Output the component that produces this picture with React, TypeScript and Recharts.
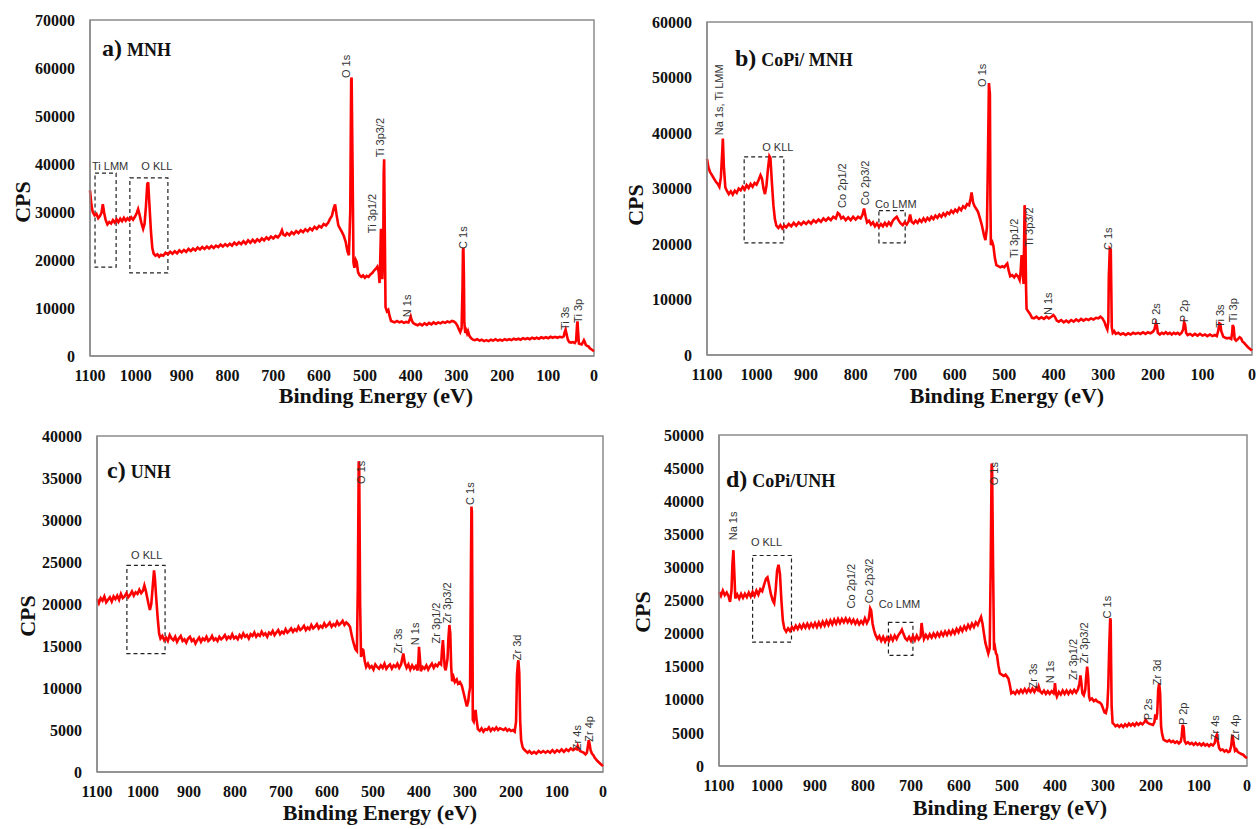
import { LineChart, Line, XAxis, YAxis, ReferenceArea, ReferenceDot } from "recharts";

type Pt = [number, number];
type Tag = { text: string; e: number; v: number };
type Box = { e1: number; e2: number; v1: number; v2: number };
type Rect = { l: number; t: number; r: number; b: number };

// binding energy ticks (eV), shared by all four panels
const X_TICKS = [0, 100, 200, 300, 400, 500, 600, 700, 800, 900, 1000, 1100];

const MNH_Y_TICKS = [0, 10000, 20000, 30000, 40000, 50000, 60000, 70000];
const COPI_MNH_Y_TICKS = [0, 10000, 20000, 30000, 40000, 50000, 60000];
const UNH_Y_TICKS = [0, 5000, 10000, 15000, 20000, 25000, 30000, 35000, 40000];
const COPI_UNH_Y_TICKS = [0, 5000, 10000, 15000, 20000, 25000, 30000, 35000, 40000, 45000, 50000];

// survey spectra: [binding energy, CPS]
const MNH: Pt[] = [
  [1100, 34500], [1097, 31500], [1094, 30000], [1090, 29300], [1086, 29600], [1082, 28700], [1078, 29200], [1075, 29800],
  [1072, 31600], [1069, 29800], [1066, 28400], [1062, 27400], [1058, 27900], [1054, 27600], [1050, 28300], [1046, 27800],
  [1042, 28500], [1038, 27900], [1034, 28600], [1030, 28100], [1026, 28800], [1022, 28200], [1018, 28700], [1014, 28300],
  [1010, 28900], [1006, 28400], [1002, 29000], [998, 29800], [995, 30600], [992, 29500], [988, 27800], [984, 26500],
  [981, 27500], [978, 31000], [975, 35800], [973, 36200], [970, 31000], [967, 26000], [964, 22500], [961, 21300],
  [957, 20900], [953, 21200], [949, 20700], [945, 21100], [940, 20900], [935, 21500], [930, 21200], [925, 21700],
  [920, 21300], [915, 21800], [910, 21400], [905, 22000], [900, 21600], [895, 22100], [890, 21700], [885, 22300],
  [880, 21900], [875, 22400], [870, 22000], [865, 22600], [860, 22200], [855, 22700], [850, 22300], [845, 22800],
  [840, 22400], [835, 22900], [830, 22500], [825, 23000], [820, 22700], [815, 23200], [810, 22800], [805, 23300],
  [800, 22900], [795, 23400], [790, 23000], [785, 23600], [780, 23200], [775, 23700], [770, 23300], [765, 23900],
  [760, 23400], [755, 24100], [750, 23600], [745, 24200], [740, 23700], [735, 24300], [730, 23900], [725, 24500],
  [720, 24100], [715, 24700], [710, 24300], [705, 24900], [700, 24500], [695, 25000], [690, 24700], [685, 25300],
  [681, 26200], [678, 25300], [674, 25100], [670, 25600], [665, 25200], [660, 25800], [655, 25400], [650, 26000],
  [645, 25600], [640, 26200], [635, 25800], [630, 26400], [625, 26000], [620, 26600], [615, 26200], [610, 26900],
  [605, 26500], [600, 27100], [595, 26800], [590, 27500], [585, 27200], [580, 27800], [576, 28600], [572, 29200],
  [568, 30800], [565, 31600], [562, 29500], [558, 27200], [554, 26500], [550, 25800], [546, 25000], [542, 23800],
  [538, 21800], [535, 21000], [532, 30000], [530, 57500], [529, 58000], [527, 40000], [525, 19500], [523, 18400],
  [520, 20000], [518, 19600], [515, 17500], [512, 16900], [508, 16500], [504, 16800], [500, 16300], [496, 16700],
  [492, 16500], [488, 17000], [484, 17300], [480, 17800], [476, 18200], [473, 18600], [470, 17500], [468, 15200],
  [466, 22000], [465, 26500], [464, 22000], [462, 16000], [460, 22000], [459, 38000], [458, 41000], [457, 30000],
  [455, 10200], [452, 9300], [449, 9600], [446, 8300], [443, 7300], [440, 7200], [435, 7000], [430, 7300],
  [425, 7000], [420, 7200], [415, 6900], [410, 7100], [405, 7000], [402, 7600], [400, 8200], [398, 7500],
  [395, 6900], [390, 6600], [385, 6400], [380, 6700], [375, 6400], [370, 6800], [365, 6500], [360, 6900],
  [355, 6600], [350, 7000], [345, 6700], [340, 7000], [335, 6800], [330, 7100], [325, 6900], [320, 7200],
  [315, 7000], [310, 7300], [306, 7200], [302, 6900], [298, 6300], [295, 5600], [292, 5000], [289, 5800],
  [287, 14000], [286, 22000], [285, 22500], [284, 17000], [283, 7000], [281, 4800], [279, 5300], [277, 4700],
  [275, 5200], [272, 4200], [268, 3700], [264, 3400], [260, 3300], [255, 3500], [250, 3200], [245, 3400],
  [240, 3100], [235, 3300], [230, 3100], [225, 3400], [220, 3200], [215, 3500], [210, 3200], [205, 3400],
  [200, 3200], [195, 3500], [190, 3300], [185, 3500], [180, 3300], [175, 3600], [170, 3400], [165, 3600],
  [160, 3400], [155, 3700], [150, 3500], [145, 3700], [140, 3500], [135, 3800], [130, 3600], [125, 3800],
  [120, 3600], [115, 3900], [110, 3700], [105, 3900], [100, 3700], [95, 4000], [90, 3800], [85, 4000],
  [80, 3800], [75, 4000], [70, 3900], [66, 4100], [64, 5000], [62, 5500], [60, 4600], [57, 3400],
  [54, 2900], [50, 2800], [46, 2900], [42, 2700], [39, 3200], [37, 6500], [36, 7200], [35, 5500],
  [33, 2600], [30, 2500], [27, 2400], [24, 2900], [22, 3300], [20, 2900], [18, 2300], [15, 2100],
  [12, 2000], [9, 1600], [6, 1400], [3, 1200], [0, 1000],
];

const COPI_MNH: Pt[] = [
  [1100, 35300], [1097, 33800], [1094, 33000], [1090, 32400], [1086, 31800], [1082, 31200], [1078, 30800], [1075, 30300],
  [1072, 32000], [1069, 37000], [1068, 39000], [1066, 34000], [1063, 30200], [1060, 29600], [1056, 29000], [1052, 29500],
  [1048, 28900], [1044, 29600], [1040, 29200], [1036, 30000], [1032, 29700], [1028, 30300], [1024, 29800], [1020, 30600],
  [1016, 30100], [1012, 30800], [1008, 30300], [1004, 31000], [1000, 30700], [996, 31500], [992, 32400], [989, 31800],
  [986, 30000], [983, 29000], [980, 30500], [977, 33500], [974, 35800], [972, 35500], [969, 31000], [966, 27000],
  [963, 24500], [960, 23300], [956, 22900], [952, 23400], [948, 22800], [944, 23300], [940, 23000], [935, 23600],
  [930, 23200], [925, 23800], [920, 23300], [915, 23900], [910, 23500], [905, 24000], [900, 23600], [895, 24100],
  [890, 23700], [885, 24300], [880, 23900], [875, 24400], [870, 24000], [865, 24600], [860, 24200], [855, 24700],
  [850, 24300], [845, 24900], [840, 24600], [836, 25600], [833, 25400], [829, 24600], [825, 24900], [820, 24300],
  [815, 24800], [810, 24300], [805, 24900], [800, 24400], [795, 24900], [790, 24600], [786, 25300], [783, 26400],
  [780, 25000], [777, 23900], [773, 24200], [769, 23500], [765, 23900], [761, 23200], [757, 23700], [753, 23100],
  [749, 23600], [745, 23200], [741, 23800], [737, 23300], [733, 23900], [729, 23400], [725, 24200], [721, 24600],
  [717, 24900], [713, 24200], [709, 23700], [705, 23400], [701, 23900], [697, 23500], [693, 24100], [690, 25300],
  [687, 24000], [683, 23700], [679, 24200], [675, 23800], [671, 24400], [667, 24000], [663, 24600], [659, 24100],
  [655, 24700], [651, 24300], [647, 24900], [643, 24500], [639, 25100], [635, 24700], [631, 25300], [627, 24900],
  [623, 25500], [619, 25100], [615, 25700], [611, 25400], [607, 26000], [603, 25600], [599, 26200], [595, 25800],
  [591, 26500], [587, 26100], [583, 26800], [579, 26500], [575, 27200], [571, 27000], [568, 28200], [566, 29300],
  [563, 27500], [560, 26800], [557, 26400], [553, 25800], [549, 24600], [545, 23300], [541, 21600], [538, 20700],
  [535, 23000], [533, 35000], [531, 49000], [529, 47000], [528, 28000], [527, 19800], [524, 20300], [522, 19700],
  [519, 17500], [516, 16200], [512, 16000], [508, 15800], [504, 16000], [500, 15800], [496, 16300], [494, 16500],
  [491, 15200], [488, 14200], [484, 14400], [480, 14000], [476, 14500], [472, 14100], [469, 13500], [467, 15000],
  [465, 18000], [463, 15000], [461, 12800], [460, 20000], [459, 27000], [458, 26000], [456, 12000], [455, 8300],
  [452, 7900], [448, 7400], [444, 6700], [440, 6600], [435, 6900], [430, 6500], [425, 6800], [420, 6500],
  [415, 6900], [410, 6600], [405, 6900], [401, 7200], [398, 6900], [394, 6200], [390, 6000], [385, 6300],
  [380, 5900], [375, 6200], [370, 5900], [365, 6300], [360, 6000], [355, 6400], [350, 6100], [345, 6500],
  [340, 6200], [335, 6500], [330, 6300], [325, 6600], [320, 6400], [315, 6700], [310, 6600], [306, 6900],
  [302, 6600], [298, 6000], [295, 5200], [292, 4600], [290, 6000], [289, 14000], [287, 19200], [285, 19000],
  [284, 12000], [283, 5000], [281, 4000], [278, 4300], [275, 3800], [270, 4000], [265, 3700], [260, 3900],
  [255, 3600], [250, 3900], [245, 3700], [240, 4000], [235, 3800], [230, 4000], [225, 3800], [220, 4100],
  [215, 3800], [210, 4100], [205, 3900], [200, 4200], [197, 4600], [194, 5700], [192, 5300], [190, 4000],
  [186, 3700], [182, 4000], [178, 3800], [174, 4100], [170, 3800], [166, 4000], [162, 3700], [158, 4000],
  [154, 3800], [150, 4000], [146, 3700], [142, 4000], [139, 4600], [137, 5900], [135, 5500], [133, 4000],
  [130, 3600], [125, 3800], [120, 3500], [115, 3800], [110, 3500], [105, 3800], [100, 3500], [95, 3700],
  [90, 3400], [85, 3700], [80, 3400], [75, 3600], [71, 3400], [68, 4400], [66, 5700], [64, 5600],
  [62, 4300], [58, 3300], [54, 3100], [50, 3000], [46, 3100], [42, 2900], [40, 4000], [39, 5400],
  [37, 5000], [35, 2900], [32, 2600], [28, 2900], [25, 3200], [22, 3000], [19, 2400], [16, 2200],
  [12, 1800], [8, 1400], [4, 1100], [0, 800],
];

const UNH: Pt[] = [
  [1100, 20600], [1096, 20100], [1092, 20700], [1088, 20400], [1084, 20900], [1080, 20200], [1076, 20500], [1072, 20800],
  [1068, 20300], [1064, 20900], [1060, 20600], [1056, 21000], [1052, 20500], [1048, 21200], [1044, 20700], [1040, 20900],
  [1036, 21300], [1032, 20800], [1028, 21100], [1024, 21500], [1020, 21000], [1016, 21400], [1012, 21200], [1008, 21700],
  [1004, 21300], [1000, 21600], [997, 22200], [994, 21600], [991, 20800], [988, 20000], [985, 19300], [982, 20000],
  [979, 22000], [976, 24000], [974, 23000], [971, 20500], [968, 18300], [965, 16500], [962, 15900], [958, 16200],
  [954, 15700], [950, 16000], [946, 15600], [942, 16300], [938, 15900], [934, 15700], [930, 16100], [926, 15500],
  [922, 15900], [918, 16200], [914, 15600], [910, 15800], [906, 15400], [902, 15900], [898, 16100], [894, 15600],
  [890, 15800], [886, 15300], [882, 15700], [878, 16000], [874, 15500], [870, 15900], [866, 15700], [862, 16100],
  [858, 15600], [854, 15800], [850, 16200], [846, 15700], [842, 15900], [838, 15600], [834, 16100], [830, 15800],
  [826, 16000], [822, 16300], [818, 15800], [814, 16100], [810, 15900], [806, 16400], [802, 15900], [798, 16100],
  [794, 15800], [790, 16300], [786, 16000], [782, 16500], [778, 16100], [774, 16300], [770, 15900], [766, 16400],
  [762, 16200], [758, 16600], [754, 16100], [750, 16400], [746, 16200], [742, 16700], [738, 16300], [734, 16500],
  [730, 16100], [726, 16600], [722, 16400], [718, 16800], [714, 16300], [710, 16600], [706, 16900], [702, 16400],
  [698, 16700], [694, 16500], [690, 17000], [686, 16600], [682, 16800], [678, 17100], [674, 16700], [670, 17000],
  [666, 16800], [662, 17300], [658, 16900], [654, 17100], [650, 17400], [646, 16900], [642, 17200], [638, 17000],
  [634, 17500], [630, 17100], [626, 17300], [622, 17600], [618, 17100], [614, 17400], [610, 17200], [606, 17700],
  [602, 17300], [598, 17500], [594, 17800], [590, 17300], [586, 17600], [582, 17400], [578, 17900], [574, 17500],
  [570, 17700], [566, 18000], [562, 17500], [558, 17800], [554, 17600], [550, 17300], [546, 16200], [542, 15300],
  [538, 14600], [535, 14400], [533, 22000], [531, 37000], [530, 36500], [528, 20000], [526, 13700], [523, 14600],
  [521, 14500], [518, 13200], [515, 12500], [511, 12900], [507, 12400], [503, 12600], [499, 12200], [495, 12800],
  [491, 12500], [487, 12300], [483, 12700], [479, 12400], [475, 12900], [471, 12300], [467, 12600], [463, 12800],
  [459, 12300], [455, 12700], [451, 12500], [447, 12900], [443, 12400], [439, 12800], [436, 13600], [434, 14100],
  [431, 13000], [427, 12400], [423, 12800], [419, 12200], [415, 12700], [411, 12300], [407, 12600], [403, 12100],
  [401, 13500], [400, 14900], [398, 13500], [396, 12000], [392, 12500], [388, 12300], [384, 12700], [380, 12200],
  [376, 12600], [372, 12900], [368, 12400], [364, 12800], [360, 12600], [356, 13000], [352, 12800], [350, 14500],
  [348, 15700], [346, 14000], [344, 12400], [342, 12100], [340, 12800], [338, 13500], [336, 16000], [334, 17500],
  [332, 16500], [330, 12500], [328, 10800], [325, 11300], [322, 10700], [318, 11000], [315, 10500], [311, 10700],
  [307, 10300], [303, 9400], [299, 8500], [296, 7800], [293, 8400], [291, 9400], [289, 10000], [287, 25000],
  [286, 31600], [285, 31000], [284, 20000], [283, 6200], [281, 6000], [279, 6700], [277, 7400], [275, 6300],
  [272, 5100], [268, 4900], [264, 5200], [260, 4800], [256, 5100], [252, 5000], [248, 5300], [244, 4900],
  [240, 5200], [236, 5000], [232, 5300], [228, 5000], [224, 5200], [220, 5100], [216, 5000], [212, 5200],
  [208, 4900], [204, 5100], [200, 4900], [196, 5000], [192, 4800], [189, 6000], [187, 11500], [185, 13000],
  [184, 13300], [182, 11800], [180, 6000], [178, 3800], [175, 3000], [172, 2700], [168, 2500], [164, 2300],
  [160, 2500], [155, 2200], [150, 2400], [145, 2200], [140, 2500], [135, 2300], [130, 2500], [125, 2300],
  [120, 2500], [115, 2300], [110, 2600], [105, 2300], [100, 2600], [95, 2400], [90, 2700], [85, 2400],
  [80, 2700], [75, 2500], [70, 2800], [65, 2600], [60, 2800], [57, 2700], [55, 3100], [53, 2800],
  [50, 2500], [46, 2400], [42, 2300], [38, 2100], [35, 2300], [33, 3000], [31, 3800], [29, 3300],
  [27, 2600], [24, 2200], [21, 2000], [18, 1700], [15, 1500], [12, 1300], [8, 1100], [4, 900], [0, 700],
];

const COPI_UNH: Pt[] = [
  [1100, 26300], [1096, 25700], [1092, 26500], [1088, 25800], [1084, 26200], [1080, 25600], [1077, 24800], [1074, 26500],
  [1072, 30500], [1070, 32600], [1068, 29000], [1066, 25300], [1062, 25900], [1058, 25300], [1054, 26000], [1050, 25400],
  [1046, 26000], [1042, 25500], [1038, 26200], [1034, 25600], [1030, 26300], [1026, 25700], [1022, 26500], [1018, 25900],
  [1014, 26700], [1010, 26400], [1006, 27400], [1002, 28300], [999, 28500], [996, 27500], [992, 26000], [988, 25000],
  [985, 24600], [982, 26500], [979, 29500], [976, 30400], [973, 29000], [970, 25000], [967, 22000], [964, 20800],
  [960, 20300], [956, 20800], [952, 20400], [948, 21000], [944, 20600], [940, 21200], [936, 20700], [932, 21300],
  [928, 20800], [924, 21400], [920, 20900], [916, 21500], [912, 20900], [908, 21500], [904, 21000], [900, 21600],
  [896, 21000], [892, 21700], [888, 21100], [884, 21800], [880, 21200], [876, 21900], [872, 21300], [868, 22000],
  [864, 21400], [860, 22100], [856, 21500], [852, 22200], [848, 21600], [844, 22200], [840, 21700], [836, 22300],
  [832, 21700], [828, 22200], [824, 21600], [820, 22100], [816, 21500], [812, 22000], [808, 21400], [804, 21900],
  [800, 21500], [796, 22300], [792, 21600], [788, 22200], [785, 23800], [783, 23500], [780, 21500], [777, 20500],
  [774, 19800], [770, 19200], [766, 19600], [762, 18900], [758, 19500], [754, 18800], [750, 19400], [746, 18900],
  [742, 19600], [738, 19000], [734, 19700], [730, 19200], [726, 19800], [722, 20200], [719, 20600], [716, 20000],
  [712, 19300], [708, 19000], [704, 19500], [700, 18900], [696, 19600], [692, 19000], [688, 19700], [684, 19100],
  [680, 19500], [678, 21600], [676, 20500], [673, 19200], [669, 19800], [665, 19300], [661, 19900], [657, 19400],
  [653, 20000], [649, 19500], [645, 20100], [641, 19600], [637, 20200], [633, 19700], [629, 20300], [625, 19800],
  [621, 20400], [617, 19900], [613, 20500], [609, 20000], [605, 20700], [601, 20200], [597, 20900], [593, 20400],
  [589, 21100], [585, 20600], [581, 21300], [577, 20800], [573, 21500], [569, 21000], [565, 21700], [561, 21300],
  [557, 22000], [554, 22500], [551, 21500], [548, 20000], [545, 18600], [542, 17800], [539, 17000], [536, 17800],
  [534, 30000], [532, 45700], [531, 45000], [529, 30000], [527, 17500], [525, 17900], [523, 17000], [521, 16800],
  [518, 15200], [515, 14000], [511, 13800], [507, 13600], [503, 13800], [500, 13500], [497, 13200], [494, 12200],
  [491, 11000], [487, 11200], [483, 10900], [479, 11400], [475, 11000], [471, 11500], [467, 11100], [463, 11600],
  [459, 11100], [455, 11600], [451, 11200], [447, 11700], [443, 11200], [439, 11800], [436, 11500], [434, 12000],
  [431, 11300], [427, 11000], [423, 11400], [419, 10900], [415, 11300], [411, 10900], [407, 11300], [403, 11000],
  [401, 11800], [400, 12500], [398, 11000], [396, 10500], [392, 11200], [388, 10800], [384, 11400], [380, 10900],
  [376, 11400], [372, 10900], [368, 11400], [364, 11000], [360, 11500], [356, 11100], [352, 11600], [349, 12500],
  [347, 13700], [345, 12500], [343, 11000], [340, 10700], [337, 11500], [335, 13500], [333, 15000], [331, 13500],
  [329, 10500], [327, 10000], [323, 10200], [319, 9800], [315, 10000], [311, 9700], [307, 9600], [303, 9300],
  [300, 8700], [297, 8100], [294, 8000], [291, 9000], [289, 12000], [287, 18000], [285, 22300], [284, 22000],
  [283, 15000], [282, 9000], [280, 6500], [277, 6300], [274, 6000], [270, 6200], [266, 5900], [262, 6200],
  [258, 5900], [254, 6300], [250, 6000], [246, 6400], [242, 6100], [238, 6400], [234, 6100], [230, 6500],
  [226, 6200], [222, 6500], [218, 6300], [214, 6600], [211, 7000], [208, 6600], [204, 6400], [200, 6300],
  [196, 6200], [193, 6600], [191, 7800], [189, 7000], [187, 8000], [185, 11500], [183, 12500], [181, 11000],
  [179, 6000], [177, 4900], [174, 4000], [170, 3800], [166, 3700], [162, 3900], [158, 3600], [154, 3800],
  [150, 3500], [146, 3700], [142, 3400], [138, 3700], [136, 4500], [134, 6200], [132, 5800], [130, 3800],
  [127, 3400], [123, 3600], [119, 3300], [115, 3500], [111, 3200], [107, 3500], [103, 3200], [99, 3400],
  [95, 3100], [91, 3400], [87, 3100], [83, 3300], [79, 3000], [75, 3300], [71, 3100], [67, 3500],
  [65, 4400], [63, 4700], [61, 3800], [58, 2700], [55, 2400], [51, 2500], [47, 2200], [43, 2400],
  [39, 2100], [36, 2200], [33, 3000], [31, 4300], [30, 4700], [28, 3500], [25, 2300], [22, 2500],
  [19, 2100], [16, 2000], [12, 1800], [8, 1700], [4, 1400], [0, 1200],
];

// peak labels (vertical text) and region labels, anchored in data space
const MNH_PEAKS: Tag[] = [
  { text: "O 1s", e: 541, v: 57900 },
  { text: "Ti 3p3/2", e: 467, v: 41400 },
  { text: "Ti 3p1/2", e: 484, v: 25600 },
  { text: "C 1s", e: 286, v: 22300 },
  { text: "N 1s", e: 408, v: 8100 },
  { text: "Ti 3s", e: 63, v: 5400 },
  { text: "Ti 3p", e: 35, v: 6900 },
];
const MNH_REGIONS: Tag[] = [
  { text: "Ti LMM", e: 1056, v: 39600 },
  { text: "O KLL", e: 954, v: 39600 },
];
const MNH_BOXES: Box[] = [
  { e1: 1089, e2: 1043, v1: 18500, v2: 38100 },
  { e1: 1013, e2: 930, v1: 17300, v2: 37100 },
];

const COPI_MNH_PEAKS: Tag[] = [
  { text: "Na 1s, Ti LMM", e: 1076, v: 39600 },
  { text: "Co 2p1/2", e: 828, v: 26500 },
  { text: "Co 2p3/2", e: 781, v: 27000 },
  { text: "O 1s", e: 544, v: 48300 },
  { text: "Ti 3p1/2", e: 480, v: 17500 },
  { text: "Ti 3p3/2", e: 450, v: 19500 },
  { text: "C 1s", e: 291, v: 18900 },
  { text: "N 1s", e: 412, v: 7200 },
  { text: "P 2s", e: 194, v: 5400 },
  { text: "P 2p", e: 137, v: 5900 },
  { text: "Ti 3s", e: 65, v: 4900 },
  { text: "Ti 3p", e: 38, v: 5900 },
];
const COPI_MNH_REGIONS: Tag[] = [
  { text: "O KLL", e: 957, v: 37500 },
  { text: "Co LMM", e: 719, v: 27200 },
];
const COPI_MNH_BOXES: Box[] = [
  { e1: 1025, e2: 945, v1: 20200, v2: 35700 },
  { e1: 753, e2: 700, v1: 20200, v2: 26000 },
];

const UNH_PEAKS: Tag[] = [
  { text: "O 1s", e: 527, v: 34300 },
  { text: "C 1s", e: 290, v: 31800 },
  { text: "Zr 3s", e: 445, v: 14100 },
  { text: "N 1s", e: 409, v: 15100 },
  { text: "Zr 3p1/2", e: 362, v: 15300 },
  { text: "Zr 3p3/2", e: 340, v: 17700 },
  { text: "Zr 3d", e: 186, v: 13300 },
  { text: "Zr 4s", e: 57, v: 2600 },
  { text: "Zr 4p", e: 30, v: 3600 },
];
const UNH_REGIONS: Tag[] = [{ text: "O KLL", e: 992, v: 25800 }];
const UNH_BOXES: Box[] = [{ e1: 1035, e2: 952, v1: 14100, v2: 24600 }];

const COPI_UNH_PEAKS: Tag[] = [
  { text: "Na 1s", e: 1070, v: 34100 },
  { text: "Co 2p1/2", e: 824, v: 23800 },
  { text: "Co 2p3/2", e: 787, v: 24600 },
  { text: "O 1s", e: 528, v: 42400 },
  { text: "Zr 3s", e: 445, v: 11700 },
  { text: "N 1s", e: 410, v: 12500 },
  { text: "Zr 3p1/2", e: 362, v: 13000 },
  { text: "Zr 3p3/2", e: 339, v: 15500 },
  { text: "C 1s", e: 292, v: 22300 },
  { text: "P 2s", e: 206, v: 6900 },
  { text: "Zr 3d", e: 187, v: 12200 },
  { text: "P 2p", e: 134, v: 6200 },
  { text: "Zr 4s", e: 66, v: 3900 },
  { text: "Zr 4p", e: 25, v: 3900 },
];
const COPI_UNH_REGIONS: Tag[] = [
  { text: "O KLL", e: 1001, v: 33800 },
  { text: "Co LMM", e: 724, v: 24500 },
];
const COPI_UNH_BOXES: Box[] = [
  { e1: 1030, e2: 949, v1: 18700, v2: 31800 },
  { e1: 747, e2: 696, v1: 16700, v2: 21700 },
];

const SERIF = "'Liberation Serif', 'Times New Roman', serif";
const SANS = "'Liberation Sans', Arial, sans-serif";
const TICK = { fill: "#111", fontSize: 16, fontFamily: SERIF, fontWeight: 700 };
const AXIS_LINE = { stroke: "#8c8c8c", strokeWidth: 1.5 };

const Y_AXIS_W = 90;
const X_AXIS_H = 60;
const PAD_TOP = 10;
const PAD_RIGHT = 4;

function peakLabel(text: string) {
  return (p: any) => (
    <text
      x={p.cx}
      y={p.cy}
      transform={`rotate(-90 ${p.cx} ${p.cy})`}
      textAnchor="start"
      dominantBaseline="central"
      fontSize={11}
      fontFamily={SANS}
      fill="#333"
    >
      {text}
    </text>
  );
}

function regionLabel(text: string) {
  return (p: any) => (
    <text x={p.cx} y={p.cy} textAnchor="middle" dominantBaseline="central" fontSize={11} fontFamily={SANS} fill="#333">
      {text}
    </text>
  );
}

function Panel(props: {
  pts: Pt[];
  yMax: number;
  yTicks: number[];
  plot: Rect;
  peaks: Tag[];
  regions: Tag[];
  boxes: Box[];
}) {
  const { pts, yMax, yTicks, plot, peaks, regions, boxes } = props;
  const data = pts.map(([e, cps]) => ({ e, cps }));
  const w = plot.r - plot.l + Y_AXIS_W + PAD_RIGHT;
  const h = plot.b - plot.t + PAD_TOP + X_AXIS_H;

  return (
    <div style={{ position: "absolute", left: plot.l - Y_AXIS_W, top: plot.t - PAD_TOP }}>
      <LineChart width={w} height={h} data={data} margin={{ top: PAD_TOP, right: PAD_RIGHT, bottom: 0, left: 0 }}>
        <XAxis
          type="number" dataKey="e" domain={[0, 1100]} reversed ticks={X_TICKS} interval={0}
          height={X_AXIS_H} tickSize={0} tickMargin={14} axisLine={AXIS_LINE} tick={TICK}
        />
        <YAxis
          type="number" domain={[0, yMax]} ticks={yTicks} interval={0}
          width={Y_AXIS_W} tickSize={0} tickMargin={15} axisLine={AXIS_LINE} tick={TICK}
        />
        <ReferenceArea x1={0} x2={1100} y1={0} y2={yMax} fill="none" stroke="#8c8c8c" strokeWidth={1.5} />
        {boxes.map((b, i) => (
          <ReferenceArea
            key={`box${i}`} x1={b.e1} x2={b.e2} y1={b.v1} y2={b.v2}
            fill="none" stroke="#222" strokeWidth={1.2} strokeDasharray="4 3"
          />
        ))}
        <Line type="linear" dataKey="cps" stroke="#ff0000" strokeWidth={2.6} dot={false} isAnimationActive={false} />
        {peaks.map((t) => (
          <ReferenceDot key={t.text + t.e} x={t.e} y={t.v} r={0} shape={peakLabel(t.text)} />
        ))}
        {regions.map((t) => (
          <ReferenceDot key={t.text + t.e} x={t.e} y={t.v} r={0} shape={regionLabel(t.text)} />
        ))}
      </LineChart>
    </div>
  );
}

function Title({ x, y, tag, name }: { x: number; y: number; tag: string; name: string }) {
  return (
    <text x={x} y={y} fontFamily={SERIF} fontWeight={700} fill="#111">
      <tspan fontSize={24}>{tag}</tspan>
      <tspan fontSize={18} dx={5}>{name}</tspan>
    </text>
  );
}

function AxisTitles({ cpsX, cpsY, beX, beY }: { cpsX: number; cpsY: number; beX: number; beY: number }) {
  return (
    <g fontFamily={SERIF} fontWeight={700} fill="#111">
      <text x={cpsX} y={cpsY} fontSize={22} textAnchor="middle" dominantBaseline="central" transform={`rotate(-90 ${cpsX} ${cpsY})`}>
        CPS
      </text>
      <text x={beX} y={beY} fontSize={22} textAnchor="middle">
        Binding Energy (eV)
      </text>
    </g>
  );
}

export default function App() {
  return (
    <div style={{ position: "absolute", left: 0, top: 0, width: 1256, height: 829, background: "#fff", overflow: "hidden" }}>
      <Panel pts={MNH} yMax={70000} yTicks={MNH_Y_TICKS} plot={{ l: 90, t: 20, r: 594, b: 356 }}
        peaks={MNH_PEAKS} regions={MNH_REGIONS} boxes={MNH_BOXES} />
      <Panel pts={COPI_MNH} yMax={60000} yTicks={COPI_MNH_Y_TICKS} plot={{ l: 707, t: 22, r: 1252, b: 355 }}
        peaks={COPI_MNH_PEAKS} regions={COPI_MNH_REGIONS} boxes={COPI_MNH_BOXES} />
      <Panel pts={UNH} yMax={40000} yTicks={UNH_Y_TICKS} plot={{ l: 97, t: 436, r: 603, b: 772 }}
        peaks={UNH_PEAKS} regions={UNH_REGIONS} boxes={UNH_BOXES} />
      <Panel pts={COPI_UNH} yMax={50000} yTicks={COPI_UNH_Y_TICKS} plot={{ l: 719, t: 435, r: 1247, b: 766 }}
        peaks={COPI_UNH_PEAKS} regions={COPI_UNH_REGIONS} boxes={COPI_UNH_BOXES} />
      <svg width={1256} height={829} style={{ position: "absolute", left: 0, top: 0, pointerEvents: "none" }}>
        <Title x={102} y={56} tag="a)" name="MNH" />
        <Title x={735} y={66} tag="b)" name="CoPi/ MNH" />
        <Title x={107} y={478} tag="c)" name="UNH" />
        <Title x={726} y={487} tag="d)" name="CoPi/UNH" />
        <AxisTitles cpsX={22} cpsY={202} beX={376} beY={403} />
        <AxisTitles cpsX={635} cpsY={205} beX={1007} beY={403} />
        <AxisTitles cpsX={27} cpsY={616} beX={380} beY={820} />
        <AxisTitles cpsX={642} cpsY={612} beX={1010} beY={815} />
      </svg>
    </div>
  );
}
